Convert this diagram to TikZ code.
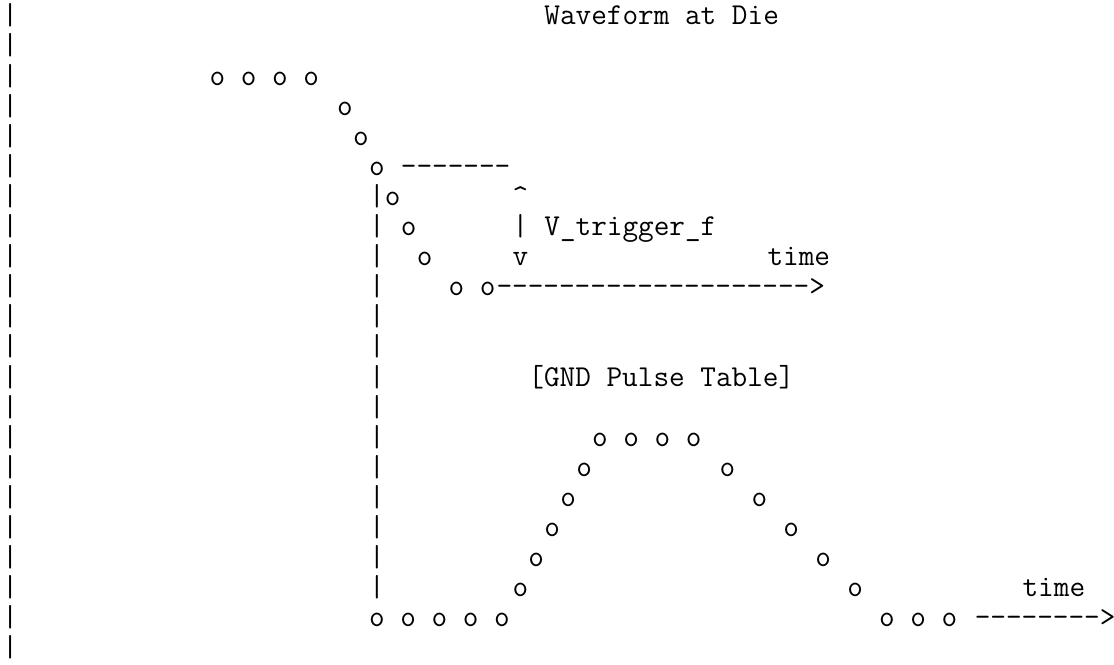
\documentclass[tikz,border=0pt]{standalone}
\newcommand{\asciifont}{\ttfamily\fontsize{15.18pt}{18pt}\selectfont}
\newcommand{\dashrun}[1]{\foreach \k in {1,...,#1}{-}}
\begin{document}
\begin{tikzpicture}[x=7.97pt, y=-15.05pt,
  txt/.style={anchor=mid west, inner sep=0pt, font=\asciifont}]
\useasboundingbox (-0.627,-0.681) rectangle (69.26,21.38);
% left rule and inner edge
\foreach \r in {0,...,21}
  \node[txt] (rule\r) at (-0.5,\r) {|};
\foreach \r in {6,...,19}
  \node[txt] (edge\r) at (22.5,\r) {|};
\node[txt] (title) at (33.5,0) {Waveform at Die};
% waveform at die
\node[txt] (high) at (12.5,2) {o o o o};
\foreach \r in {3,...,8}
  \node[txt] (fall\r) at (\r+17.5,\r) {o};
\node[txt] (trigtop) at (24.5,5) {\dashrun{7}};
\node[txt] (up) at (31.5,6) {\textasciicircum};
\node[txt] (bar) at (31.5,7) {|};
\node[txt] (trig) at (33.5,7) {V\_trigger\_f};
\node[txt] (down) at (31.5,8) {v};
\node[txt] (timeA) at (47.5,8) {time};
\node[txt] (low) at (27.5,9) {o o};
\node[txt] (axisA) at (30.5,9) {\dashrun{20}>};
% gnd pulse table
\node[txt] (table) at (32.5,12) {[GND Pulse Table]};
\node[txt] (peak) at (36.5,14) {o o o o};
\foreach \c [count=\i] in {35.5,34.5,33.5,32.5,31.5}
  \node[txt] (rise\i) at (\c,14+\i) {o};
\foreach \c [count=\i] in {44.5,46.5,48.5,50.5,52.5}
  \node[txt] (drop\i) at (\c,14+\i) {o};
\node[txt] (timeB) at (63.5,19) {time};
\node[txt] (base) at (22.5,20) {o o o o o};
\node[txt] (tail) at (54.5,20) {o o o};
\node[txt] (axisB) at (60.5,20) {\dashrun{8}>};
\end{tikzpicture}
\end{document}
